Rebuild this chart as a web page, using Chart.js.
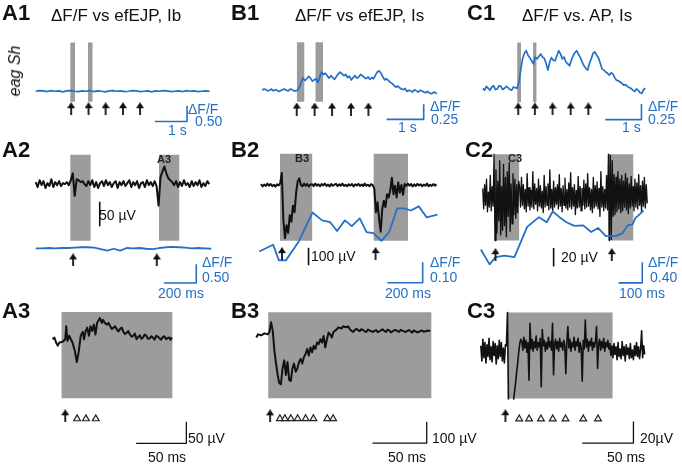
<!DOCTYPE html>
<html><head><meta charset="utf-8">
<script src="https://cdn.jsdelivr.net/npm/chart.js@4.4.1/dist/chart.umd.min.js"></script>
<style>
html,body{margin:0;padding:0;background:#fff;}
#wrap{position:relative;width:682px;height:464px;overflow:hidden;font-family:"Liberation Sans",Arial,Helvetica,sans-serif;}
#c{position:absolute;left:0;top:0;}
.t{position:absolute;white-space:nowrap;line-height:1;}
</style></head><body>
<div id="wrap"><canvas id="c" width="682" height="464"></canvas></div>
<script>
// ================= DATA =================
// ---- Row 1: ΔF/F vs time (s) ----
const A1_dt = 0.12;
const A1_dff = [0.00,0.02,0.01,-0.01,0.02,0.00,0.01,-0.02,0.01,0.02,0.00,-0.01,0.01,0.00,0.02,-0.01,0.01,0.00,-0.02,0.01,0.02,0.00,0.01,-0.01,0.00,0.02,0.01,-0.01,0.00,0.01,-0.02,0.01,0.00,0.02,0.01,-0.01,0.00,0.01,-0.01,0.02,0.00,0.01,-0.01,0.00,0.01,0.00];
const A1_windows = [[1.07,1.22],[1.62,1.77]];
const A1_stim = [1.10,1.64,2.17,2.71,3.24];

const B1_dt = 0.05;
const B1_dff = [0.00,0.02,0.01,-0.01,0.00,0.02,-0.01,0.01,0.00,-0.02,-0.005,0.01,0.02,0.00,-0.01,0.02,0.01,-0.01,-0.01,0.00,
  0.05,0.14,0.20,0.16,0.19,0.23,0.20,0.15,0.17,0.19,0.13,0.22,0.30,0.26,0.28,0.24,0.20,0.24,0.21,0.18,
  0.23,0.27,0.30,0.27,0.24,0.26,0.21,0.23,0.17,0.21,0.24,0.20,0.22,0.26,0.24,0.21,0.19,0.22,0.18,0.21,
  0.19,0.25,0.30,0.32,0.28,0.22,0.17,0.19,0.16,0.13,0.11,0.08,0.05,0.07,0.04,0.02,0.01,0.03,-0.02,0.00,
  -0.01,-0.03,0.01,-0.01,-0.03,0.00,-0.01,-0.03,-0.04,-0.02,-0.04,-0.06,-0.04,-0.03,-0.06];
const B1_windows = [[0.93,1.14],[1.43,1.64]];
const B1_stim = [0.93,1.41,1.88,2.39,2.86];

const C1_dt = 0.05;
const C1_dff = [0.00,-0.03,0.03,0.00,-0.03,0.02,0.04,-0.02,-0.01,0.04,0.03,-0.02,0.00,0.03,0.01,-0.02,-0.03,0.02,0.01,0.00,
  0.10,0.30,0.47,0.56,0.60,0.53,0.49,0.44,0.39,0.50,0.47,0.51,0.55,0.50,0.48,0.40,0.29,0.42,0.49,0.45,
  0.44,0.52,0.60,0.55,0.47,0.50,0.42,0.39,0.36,0.45,0.52,0.57,0.60,0.54,0.49,0.42,0.36,0.32,0.29,0.40,
  0.47,0.56,0.58,0.53,0.49,0.40,0.31,0.29,0.26,0.24,0.21,0.25,0.23,0.17,0.13,0.12,0.10,0.08,0.05,0.06,
  0.03,0.01,0.00,-0.03,-0.05,-0.01,-0.03,-0.07,-0.08,-0.02,0.00];
const C1_windows = [[0.95,1.06],[1.39,1.49]];
const C1_stim = [0.98,1.44,1.93,2.43,2.92];

const ROW1_scaleTime = 1;          // s
const A1_scaleDff = 0.50, B1_scaleDff = 0.25, C1_scaleDff = 0.25;

// ---- Row 2: field potential (µV) + ΔF/F vs time (ms) ----
const A2_dt = 12;
const A2_uV = [4,-6,8,-2,6,-8,2,-4,10,-6,4,-2,6,-4,2,
  0,4,-2,8,22,-24,10,8,4,6,0,
  -4,6,-2,8,-6,4,-8,2,6,-4,8,-2,4,-6,2,6,-8,4,-2,6,-4,2,8,-6,4,-2,6,-8,2,4,-6,8,-2,4,-4,6,
  -4,-44,14,26,36,22,12,8,4,
  -2,6,-6,4,-4,8,-2,2,-6,6,-4,4,-2,8,-6,2,-4,6,0];
const A2_dffDt = 40;
const A2_dff = [-0.02,-0.02,-0.01,-0.02,-0.01,-0.01,0.00,0.01,0.01,0.00,-0.04,-0.08,-0.03,-0.08,-0.01,-0.02,-0.01,-0.03,-0.04,-0.01,0.01,0.02,0.01,0.00,-0.02,-0.01,-0.02,-0.03];
const A2_windows = [[212,339],[758,885]];
const A2_stim = [230,745];
const A2_scaleUV = 50, A2_scaleMs = 200, A2_scaleDff = 0.50;

const B2_t0 = 10, B2_dt = 9;
const B2_uV = [5,-8,3,-5,8,-3,6,-6,2,-9,4,-2,
  10,68,-200,-302,-228,-272,-172,-209,-117,-154,-43,22,38,0,
  -6,8,-4,6,-8,3,5,-6,9,-3,4,-7,6,-2,8,-5,3,-8,6,-4,2,7,-6,4,-3,8,-5,2,-7,5,-3,6,-8,4,-2,7,-5,3,-6,8,-4,2,-7,5,
  0,-20,-154,-98,-191,-265,-135,-89,-126,-52,-70,-30,41,-52,-4,-70,15,-43,0,-55,6,
  -5,8,-3,6,-8,4,-6,7,-2,5,-7,3,-4,8,-6,2,-5,6,-3,4];
const B2_dffT = [0,78,111,150,222,300,355,400,439,483,522,567,605,644,689,733,778,817,855,900,944,1005];
const B2_dff = [0.00,0.033,-0.043,-0.043,0.048,0.19,0.152,0.143,0.10,0.152,0.124,0.162,0.095,0.09,0.052,0.095,0.21,0.21,0.20,0.22,0.167,0.18];
const B2_windows = [[117,300],[644,839]];
const B2_stim = [128,656];
const B2_scaleUV = 100, B2_scaleMs = 200, B2_scaleDff = 0.10;

const C2_t0 = 8, C2_dt = 4;
const C2_uV = [10,-12,14,-8,20,-15,6,-10,24,-14,12,-9,
  47,-46,
  30,-38,18,-25,40,-40,12,-35,36,-30,22,-42,28,-20,38,-36,15,-28,26,-18,20,-22,14,-16,18,
  12,-10,22,-8,14,-12,9,-15,26,-9,11,-13,8,-10,28,-12,15,-7,10,-14,20,-9,13,-11,7,-16,24,-10,12,-8,
  15,-13,30,-11,9,-14,18,-10,11,-7,14,-12,25,-9,10,-15,13,-8,21,-11,9,-13,16,-10,27,-12,11,-9,14,-18,
  8,-11,23,-10,12,-14,10,-8,19,-12,15,-10,26,-9,11,-13,9,-16,22,-11,13,-9,17,-12,10,-20,28,-10,12,-14,9,-11,24,-13,
  47,-46,46,-45,40,
  -20,25,-18,22,-15,28,-12,20,-16,24,-14,18,-10,26,-13,21,-17,15,-11,23,-9,12,-14,20,-10,16,-12,25,-8,13,-15,18,-9,22,-11,14,-6];
const C2_dffT = [0,37,62,100,142,196,246,279,304,333,362,396,433,467,496,529,571,600,621,642,654,675,688];
const C2_dff = [0.04,-0.25,-0.11,-0.08,-0.11,0.48,0.67,0.57,0.78,0.67,0.57,0.50,0.51,0.38,0.46,0.30,0.30,0.36,0.51,0.53,0.65,0.74,0.80];
const C2_windows = [[58,163],[538,646]];
const C2_stim = [62,554];
const C2_scaleUV = 20, C2_scaleMs = 100, C2_scaleDff = 0.40;

// ---- Row 3: expanded field potentials (µV vs ms) ----
const A3_t = [0,2.0,3.6,5.2,6.9,10.1,12.7,13.7,15.0,16.7,18.3,19.9,22.2,24.2,26.1,28.1,30.1,31.4,33.0,34.6,36.3,37.9,39.5,41.2,42.8,
  44.4,47.1,48.2,49.3,50.2,51.0,52.6,54.2,55.8,57.5,59.1,60.8,62.4,64.0,65.6,67.3,69.0,70.6,72.2,73.9,75.5,77.1,78.8,80.4,82.0,83.7,
  85.3,87.0,88.6,90.2,91.8,93.5,95.1,96.8,98.4,100,101.6,103.3,104.9,106.6,108.2,109.8,111.4,113.1,114.7,116.3,117.6,118.9];
const A3_uV = [3,6.8,-4.5,-12,-4.5,-3,3,33,-1,11,3,-4.5,-23,-50,-27,11,20,3,22,30,11,33,22,37,14,
  41,52,46,41,48,45,40,37,41,33,27,30,33,26,21,27,30,20,15,18,22,14,9,11,16,3,
  8,12,4,7,14,11,4,5,10,7,2,11,9,5,2,8,10,3,6,7,2,7];
const A3_window = [8.8,119.6];
const A3_stim = [12.7];
const A3_events = [24.5,33.3,43.1];

const B3_t = [0,1.5,4.5,7.6,10.6,12.1,13.6,15.2,16.7,18.2,19.7,21.2,22.7,24.2,25.8,27.3,28.8,30.3,31.8,33.3,34.8,36.4,37.9,39.4,40.9,42.4,43.9,45.5,47.0,48.5,50.0,51.5,53.0,54.5,56.1,57.6,59.1,60.6,62.1,63.6,65.2,66.7,68.2,69.7,
  71.2,74.2,75.7,77.3,78.8,80.3,81.8,83.3,84.9,86.4,87.9,89.4,90.9,92.4,94.0,95.5,97.0,98.5,100.0,101.5,103.0,104.5,106.0,107.6,109.1,110.6,112.1,113.6,115.1,116.7,
  118.2,119.7,121.2,122.7,124.2,125.8,127.3,128.8,130.3,131.8,133.3,134.8,136.3,137.9,139.4,140.9,142.4,143.9,145.4,147.0,148.5,150.0,151.5,153.0,154.5,156.1,158.3,160.6];
const B3_uV = [-9,6,1.5,10.6,6,16.7,62,21,-70,-130,-183,-221,-226,-153,-115,-183,-123,-206,-211,-153,-130,-168,-153,-123,-108,-130,-100,-85,-62,-92,-55,-77,-47,-62,-32,-39,-17,-32,-1.5,-55,-17,14,6,-9,
  17,29,38,36,33,44,40,39,43,29,22,17,26,32,25,21,30,26,20,17,28,24,21,17,22,26,16,20,25,29,
  22,17,28,24,15,20,25,26,21,17,27,23,20,17,22,26,20,14,24,20,15,17,22,24,18,20,24,21];
const B3_window = [10.9,161.8];
const B3_stim = [12.7];
const B3_events = [21.8,26.4,31.8,38.2,45.5,52.7,65.5,70.9];

const C3_dt = 1;
const C3_uV = [6,-8,12,-5,9,-10,7,-4,13,-7,5,-9,10,-3,8,-11,6,-6,11,-4,9,-8,4,-10,7,
  6,37,-44,null,null,null,null,-44,-36,-28,-18,-10,0,8,12,
  10,2,14,4,11,0,9,-26,27,3,12,1,10,4,15,2,9,5,13,-32,21,6,11,1,9,3,14,5,10,2,27,-21,8,12,3,10,1,13,5,9,
  2,11,6,-20,10,24,4,12,1,9,5,14,2,10,6,13,0,9,4,-27,11,3,30,5,12,1,10,6,13,2,9,5,11,24,-15,8,12,2,10,4,13,1,9,5,11,3,8,
  -3,6,-5,8,-2,5,-7,9,-4,3,-6,10,-3,5,-8,7,-2,4,-6,8,-5,2,-7,6,-3,9,-4,5,-6,3,20,-5,6,-2];
const C3_window = [26,128.8];
const C3_stim = [24];
const C3_events = [37.5,47.1,58.7,70.2,82.7,100,114.4];
const ROW3_scaleMs = 50;
const A3_scaleUV = 50, B3_scaleUV = 100, C3_scaleUV = 20;

// ================= LAYOUT (pixel mapping & styling) =================
const W = 682, H = 464;
const BLUE = '#2370c6', GRAY = '#9c9c9c', BLACK = '#111111';
const L = {
  A1:{ox:31,kx:32.7,oy:88,ky:32, winY:[-0.34,1.56], markY:-0.56, corner:[4.70,-0.97]},
  B1:{ox:261,kx:37.7,oy:87,ky:62, winY:[-0.19,0.79], markY:-0.31, corner:[4.35,-0.48]},
  C1:{ox:485,kx:36.7,oy:85,ky:64, winY:[-0.22,0.73], markY:-0.33, corner:[4.39,-0.50]},
  A2:{ox:31,kx:0.165,oy:183,ky:0.5, oy2:248,ky2:38, winY:[-116,60], markY:-0.33, uvBar:[394,-86], corner:[988,-0.95]},
  B2:{ox:258,kx:0.18,oy:184,ky:0.18, oy2:252,ky2:210, winY:[-317,178], markY:-0.01, uvBar:[278,-456], corner:[922,-0.152]},
  C2:{ox:483,kx:0.24,oy:197,ky:0.95, oy2:252,ky2:52.5, winY:[-46,47], markY:-0.06, uvBar:[308,-74], corner:[683,-0.61]},
  A3:{ox:48,kx:1.02,oy:343,ky:0.44, winY:[-134,66], arrowY:-175, triY:-182, corner:[133.3,-239]},
  B3:{ox:255,kx:1.1,oy:338,ky:0.22, winY:[-291,109], arrowY:-373, triY:-386, corner:[157.3,-500]},
  C3:{ox:483,kx:1.04,oy:355,ky:1.1, winY:[-43,37], arrowY:-59, triY:-62, corner:[149,-84.5]}
};

const scales = {}, datasets = [];
function axes(p, which) {
  const g = L[p];
  const xid = 'x' + p;
  if (!scales[xid]) scales[xid] = {type:'linear', axis:'x', position:'bottom', display:false, bounds:'data', min:-g.ox/g.kx, max:(W-g.ox)/g.kx};
  const oy = which === 2 ? g.oy2 : g.oy, ky = which === 2 ? g.ky2 : g.ky;
  const yid = 'y' + p + (which === 2 ? 'b' : '');
  if (!scales[yid]) scales[yid] = {type:'linear', axis:'y', position:'left', display:false, bounds:'data', min:(oy-H)/ky, max:oy/ky};
  return [xid, yid];
}
function addLine(ax, pts, color, width, order) {
  datasets.push({type:'line', xAxisID:ax[0], yAxisID:ax[1], data:pts, borderColor:color, borderWidth:width,
    pointRadius:0, fill:false, tension:0, spanGaps:false, borderJoinStyle:'round', order:order});
}
function addWindow(ax, x0, x1, y0, y1) {
  datasets.push({type:'line', xAxisID:ax[0], yAxisID:ax[1], data:[{x:x0,y:y1},{x:x1,y:y1}],
    fill:{value:y0}, backgroundColor:GRAY, borderColor:GRAY, borderWidth:0, pointRadius:0, tension:0, order:10});
}
function addMarks(ax, xs, y, style, r, extra) {
  datasets.push(Object.assign({type:'line', xAxisID:ax[0], yAxisID:ax[1], data:xs.map(x=>({x, y})), showLine:false,
    pointStyle:style, pointRadius:r, order:0}, extra || {}));
}
const uniform = (arr, dt, t0) => arr.map((v,i)=>({x:(t0||0)+i*dt, y:v}));
const paired = (ts, vs) => ts.map((t,i)=>({x:t, y:vs[i]}));

// arrow marker
const arrow = document.createElement('canvas');
arrow.width = 8; arrow.height = 13;
(function(){const c=arrow.getContext('2d'); c.fillStyle=BLACK; c.beginPath(); c.moveTo(0,6); c.lineTo(4,0); c.lineTo(8,6); c.closePath(); c.fill(); c.fillRect(3.1,4,1.8,9);})();

// ---- Row 1 ----
[['A1',A1_dff,A1_dt,A1_windows,A1_stim,A1_scaleDff],
 ['B1',B1_dff,B1_dt,B1_windows,B1_stim,B1_scaleDff],
 ['C1',C1_dff,C1_dt,C1_windows,C1_stim,C1_scaleDff]].forEach(([p,vals,dt,wins,stim,sdff])=>{
  const ax = axes(p,1), g = L[p];
  wins.forEach(w=>addWindow(ax, w[0], w[1], g.winY[0], g.winY[1]));
  addLine(ax, uniform(vals, dt), BLUE, 1.7, 2);
  addMarks(ax, stim, g.markY, arrow, 4);
  const [cx, cy] = g.corner;
  addLine(ax, [{x:cx-ROW1_scaleTime,y:cy},{x:cx,y:cy},{x:cx,y:cy+sdff}], BLUE, 1.6, 1);
});

// ---- Row 2 ----
[['A2',uniform(A2_uV,A2_dt,0),uniform(A2_dff,A2_dffDt,0),A2_windows,A2_stim,A2_scaleUV,A2_scaleMs,A2_scaleDff,2],
 ['B2',uniform(B2_uV,B2_dt,B2_t0),paired(B2_dffT,B2_dff),B2_windows,B2_stim,B2_scaleUV,B2_scaleMs,B2_scaleDff,2],
 ['C2',uniform(C2_uV,C2_dt,C2_t0),paired(C2_dffT,C2_dff),C2_windows,C2_stim,C2_scaleUV,C2_scaleMs,C2_scaleDff,1.35]
].forEach(([p,ephys,dff,wins,stim,suv,sms,sdff,lw])=>{
  const ax = axes(p,1), axb = axes(p,2), g = L[p];
  wins.forEach(w=>addWindow(ax, w[0], w[1], g.winY[0], g.winY[1]));
  addLine(ax, ephys, BLACK, lw, 3);
  addLine(axb, dff, BLUE, 1.8, 2);
  addMarks(axb, stim, g.markY, arrow, 4);
  addLine(ax, [{x:g.uvBar[0],y:g.uvBar[1]},{x:g.uvBar[0],y:g.uvBar[1]+suv}], BLACK, 1.6, 1);
  const [cx, cy] = g.corner;
  addLine(axb, [{x:cx-sms,y:cy},{x:cx,y:cy},{x:cx,y:cy+sdff}], BLUE, 1.6, 1);
});

// ---- Row 3 ----
[['A3',paired(A3_t,A3_uV),A3_window,A3_stim,A3_events,A3_scaleUV,2],
 ['B3',paired(B3_t,B3_uV),B3_window,B3_stim,B3_events,B3_scaleUV,2],
 ['C3',uniform(C3_uV,C3_dt,0),C3_window,C3_stim,C3_events,C3_scaleUV,1.6]
].forEach(([p,pts,win,stim,ev,suv,lw])=>{
  const ax = axes(p,1), g = L[p];
  addWindow(ax, win[0], win[1], g.winY[0], g.winY[1]);
  addLine(ax, pts, BLACK, lw, 3);
  addMarks(ax, stim, g.arrowY, arrow, 4);
  addMarks(ax, ev, g.triY, 'triangle', 3.9, {backgroundColor:'#f2f2f2', borderColor:'#222', borderWidth:1.2});
  const [cx, cy] = g.corner;
  addLine(ax, [{x:cx-ROW3_scaleMs,y:cy},{x:cx,y:cy},{x:cx,y:cy+suv}], BLACK, 1.3, 1);
});

new Chart(document.getElementById('c'), {
  type:'line',
  data:{datasets},
  options:{responsive:false, animation:false, devicePixelRatio:1, events:[],
    layout:{padding:0},
    plugins:{legend:{display:false}, tooltip:{enabled:false}, title:{display:false}},
    scales}
});

// ================= TEXT =================
const LABELS = [
  // [text, x, baseline, size, weight, color]
  ['A1',2,21,22,'bold',BLACK],['B1',231,21,22,'bold',BLACK],['C1',467,21,22,'bold',BLACK],
  ['ΔF/F vs efEJP, Ib',51,21,17,'normal',BLACK],['ΔF/F vs efEJP, Is',295,21,17,'normal',BLACK],['ΔF/F vs. AP, Is',522,21,17,'normal',BLACK],
  ['ΔF/F',188,114,14,'normal',BLUE],['0.50',195,126,14,'normal',BLUE],['1 s',168,135,14,'normal',BLUE],
  ['ΔF/F',430,111,14,'normal',BLUE],['0.25',431,124,14,'normal',BLUE],['1 s',398,132,14,'normal',BLUE],
  ['ΔF/F',648,111,14,'normal',BLUE],['0.25',648,124,14,'normal',BLUE],['1 s',622,132,14,'normal',BLUE],
  ['A2',2,158,22,'bold',BLACK],['B2',231,158,22,'bold',BLACK],['C2',465,158,22,'bold',BLACK],
  ['A3',157,163,11,'bold','#222'],['B3',295,162,11,'bold','#222'],['C3',508,162,11,'bold','#222'],
  ['50 µV',99,220,14,'normal',BLACK],['100 µV',311,261,14,'normal',BLACK],['20 µV',561,262,14,'normal',BLACK],
  ['ΔF/F',202,267,14,'normal',BLUE],['0.50',202,282,14,'normal',BLUE],['200 ms',158,298,14,'normal',BLUE],
  ['ΔF/F',430,267,14,'normal',BLUE],['0.10',430,282,14,'normal',BLUE],['200 ms',385,298,14,'normal',BLUE],
  ['ΔF/F',648,267,14,'normal',BLUE],['0.40',650,282,14,'normal',BLUE],['100 ms',619,298,14,'normal',BLUE],
  ['A3',2,319,22,'bold',BLACK],['B3',231,319,22,'bold',BLACK],['C3',467,319,22,'bold',BLACK],
  ['50 µV',188,443,14,'normal',BLACK],['50 ms',148,462,14,'normal',BLACK],
  ['100 µV',432,443,14,'normal',BLACK],['50 ms',388,462,14,'normal',BLACK],
  ['20µV',640,443,14,'normal',BLACK],['50 ms',607,462,14,'normal',BLACK]
];
const wrap = document.getElementById('wrap');
LABELS.forEach(([txt,x,base,size,weight,color])=>{
  const d = document.createElement('div');
  d.className = 't'; d.textContent = txt;
  d.style.left = x + 'px'; d.style.top = (base - 0.846*size) + 'px';
  d.style.fontSize = size + 'px'; d.style.fontWeight = weight; d.style.color = color;
  wrap.appendChild(d);
});
const eag = document.createElement('div');
eag.className = 't'; eag.textContent = 'eag Sh';
eag.style.cssText += 'left:15px;top:71px;font-size:16px;font-style:italic;color:#111;transform:translate(-50%,-50%) rotate(-90deg);';
wrap.appendChild(eag);
</script></body></html>
